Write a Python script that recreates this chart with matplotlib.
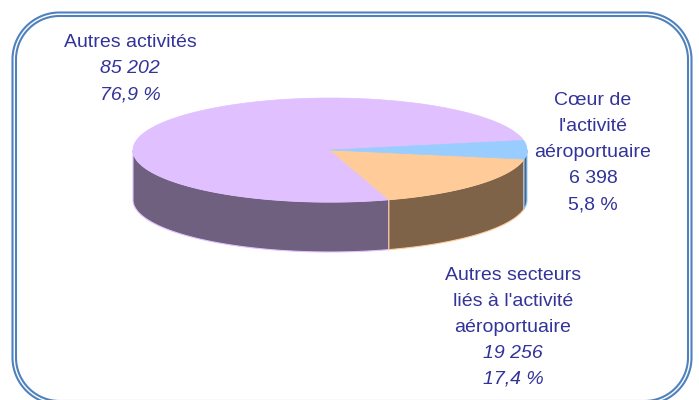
import numpy as np
import matplotlib
matplotlib.use("Agg")
import matplotlib.pyplot as plt
from matplotlib.patches import Polygon

# data
names = ["Autres activités", "Autres secteurs liés à l'activité aéroportuaire",
         "Cœur de l'activité aéroportuaire"]
values = [85202, 19256, 6398]
top_colors = ["#E0C0FF", "#FFCC99", "#99CCFF"]
side_colors = ["#70607F", "#7F6348", "#4C667F"]

label_lines = [
    ["Autres activités", "85 202", "76,9 %"],
    ["Autres secteurs", "liés à l'activité", "aéroportuaire", "19 256", "17,4 %"],
    ["Cœur de", "l'activité", "aéroportuaire", "6 398", "5,8 %"],
]
label_italic = [
    [False, True, True],
    [False, False, False, True, True],
    [False, False, False, False, False],
]
label_pos = [(130, 47), (513, 280), (593, 105)]  # centre x, first baseline (px)
line_step = 26
text_color = "#333399"

# pie geometry in pixels
cx, cy, a, b, depth = 330, 150, 197, 52, 50
start = 10.7  # degrees, purple/blue boundary

fig = plt.figure(figsize=(6.99, 4.0), dpi=100)
ax = fig.add_axes([0, 0, 1, 1])
ax.set_xlim(0, 699)
ax.set_ylim(400, 0)
ax.axis("off")


def rounded_rect(x0, y0, x1, y1, r, n=40):
    pts = []
    corners = [(x1 - r, y0 + r, 270, 360), (x1 - r, y1 - r, 0, 90),
               (x0 + r, y1 - r, 90, 180), (x0 + r, y0 + r, 180, 270)]
    for ccx, ccy, s, e in corners:
        for t in np.radians(np.linspace(s, e, n)):
            pts.append((ccx + r * np.cos(t), ccy + r * np.sin(t)))
    return np.array(pts)


# rounded double frame (bottom edge runs just off the image)
for off in (0, 3.5):
    ax.add_patch(Polygon(rounded_rect(12.5 + off, 12.5 + off, 691.5 - off, 404.5 - off,
                                      47 - off),
                         closed=True, fill=False, ec="#4F81BD", lw=1.5))


def pt(t, dy=0):
    r = np.radians(t)
    return cx + a * np.cos(r), cy - b * np.sin(r) + dy


total = float(sum(values))
spans = []
t0 = start
for v in values:
    d = 360 * v / total
    spans.append((t0, t0 + d))
    t0 += d

# side walls (front half only)
for (t1, t2), sc, tc in zip(spans, side_colors, top_colors):
    for k in (0, 360):
        lo, hi = max(t1, 180 + k), min(t2, 360 + k)
        if hi <= lo:
            continue
        ts = np.linspace(lo, hi, 120)
        top = np.array([pt(t) for t in ts])
        bot = np.array([pt(t, depth) for t in ts[::-1]])
        ax.add_patch(Polygon(np.vstack([top, bot]), closed=True, fc=sc,
                             ec=tc, lw=0.8, zorder=2))

# top faces
for (t1, t2), tc in zip(spans, top_colors):
    ts = np.linspace(t1, t2, 300)
    arc = np.array([pt(t) for t in ts])
    ax.add_patch(Polygon(np.vstack([[cx, cy], arc]), closed=True, fc=tc,
                         ec=tc, lw=0.5, zorder=3))

# labels
for lines, ital, (x, y0) in zip(label_lines, label_italic, label_pos):
    for i, (s, it) in enumerate(zip(lines, ital)):
        ax.text(x, y0 + i * line_step, s, ha="center", va="baseline",
                fontsize=14, color=text_color, family="Liberation Sans",
                style="italic" if it else "normal")

fig.savefig("out.png", dpi=100)
